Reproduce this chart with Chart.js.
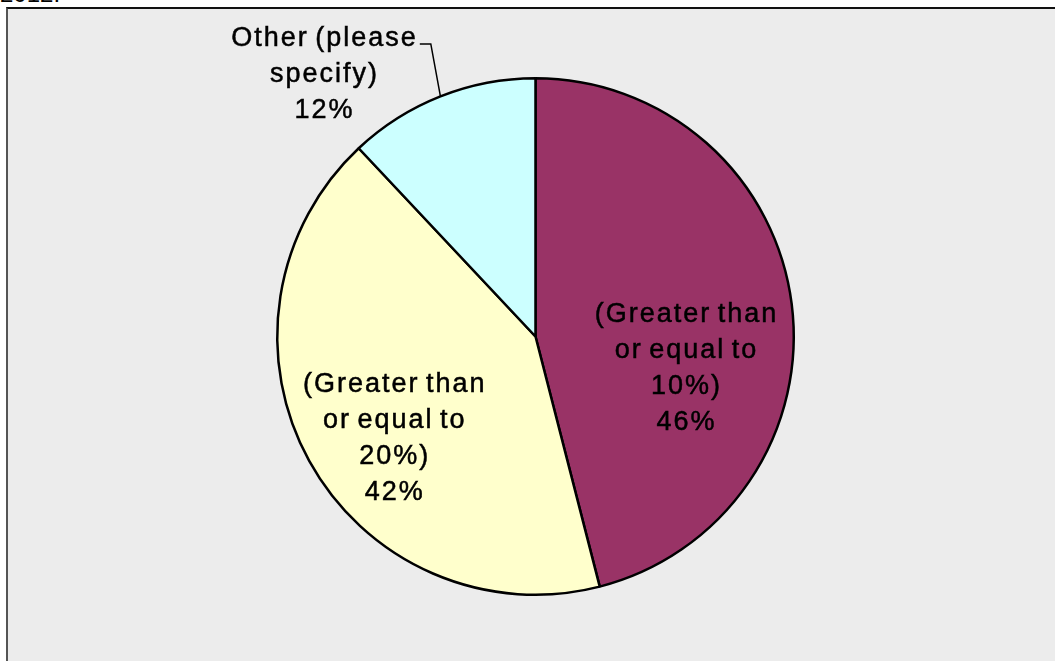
<!DOCTYPE html>
<html>
<head>
<meta charset="utf-8">
<script src="https://cdn.jsdelivr.net/npm/chart.js@4.4.0/dist/chart.umd.min.js"></script>
<style>
  html, body { margin: 0; padding: 0; background: #fff; overflow: hidden; }
  .title { position: absolute; left: 0; top: -18px; font: 24px "Liberation Sans", Arial, sans-serif; line-height: 24px; color: #000; }
  .frame { position: absolute; left: 6px; top: 7px; width: 1100px; height: 700px; background: #ececec; border-left: 2px solid #555; border-top: 2px solid #111; }
  #pie { position: absolute; left: 8px; top: 9px; }
</style>
</head>
<body>
<div class="title">2012.</div>
<div class="frame"></div>
<canvas id="pie" width="1047" height="652"></canvas>
<script>
const categories = ['(Greater than or equal to 10%)', '(Greater than or equal to 20%)', 'Other (please specify)']
const shares = [46, 42, 12]
const labelLines = [
    ['(Greater than', 'or equal to', '10%)'],
    ['(Greater than', 'or equal to', '20%)'],
    ['Other (please', 'specify)']
]

const colors = ['#993366', '#ffffcc', '#ccffff']
// label anchor, as a fraction of the radius from the pie centre
const labelOffset = [[0.585, -0.056], [-0.545, 0.214], [-0.817, -1.125]]

const sliceLabels = {
    id: 'sliceLabels',
    afterDatasetsDraw(chart) {
        const ctx = chart.ctx
        const meta = chart.getDatasetMeta(0)
        ctx.save()
        ctx.font = '27px "Liberation Sans", Arial, sans-serif'
        ctx.letterSpacing = '2px'
        ctx.wordSpacing = '-3px'
        ctx.fillStyle = '#000'
        ctx.strokeStyle = '#000'
        ctx.lineWidth = 0.5
        ctx.textAlign = 'center'
        ctx.textBaseline = 'alphabetic'
        meta.data.forEach((arc, i) => {
            const p = arc.getProps(['x', 'y', 'startAngle', 'endAngle', 'outerRadius'], true)
            const lx = p.x + labelOffset[i][0] * p.outerRadius
            const ly = p.y + labelOffset[i][1] * p.outerRadius
            const lines = labelLines[i].concat([shares[i] + '%'])
            lines.forEach((t, k) => {
                ctx.fillText(t, lx, ly + k * 36)
                ctx.strokeText(t, lx, ly + k * 36)
            })

            // leader line for the label that sits outside the pie
            if (labelOffset[i][1] < -1) {
                const w = ctx.measureText(lines[0]).width
                const mid = (p.startAngle + p.endAngle) / 2
                const ex = p.x + Math.cos(mid) * p.outerRadius
                const ey = p.y + Math.sin(mid) * p.outerRadius
                ctx.beginPath()
                ctx.moveTo(lx + w / 2 + 2, ly - 2)
                ctx.lineTo(lx + w / 2 + 13, ly - 2)
                ctx.lineTo(ex, ey)
                ctx.lineWidth = 1.5
                ctx.stroke()
            }
        })
        ctx.restore()
    }
}

new Chart(document.getElementById('pie'), {
    type: 'pie',
    data: {
        labels: categories,
        datasets: [{
            data: shares,
            backgroundColor: colors,
            borderColor: '#000',
            borderWidth: 2.5
        }]
    },
    options: {
        responsive: false,
        animation: false,
        layout: { padding: { left: 268, right: 260, top: 68, bottom: 65 } },
        plugins: {
            legend: { display: false },
            tooltip: { enabled: false }
        }
    },
    plugins: [sliceLabels]
})
</script>
</body>
</html>
